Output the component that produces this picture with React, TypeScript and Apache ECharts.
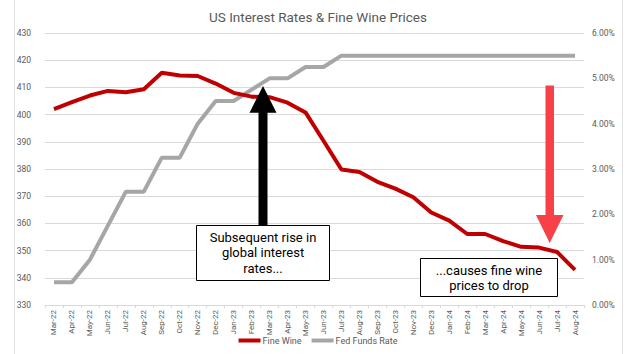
import React, { useEffect, useRef } from "react";
import * as echarts from "echarts";

const months = [
  "Mar-22", "Apr-22", "May-22", "Jun-22", "Jul-22", "Aug-22", "Sep-22", "Oct-22", "Nov-22", "Dec-22",
  "Jan-23", "Feb-23", "Mar-23", "Apr-23", "May-23", "Jun-23", "Jul-23", "Aug-23", "Sep-23", "Oct-23",
  "Nov-23", "Dec-23", "Jan-24", "Feb-24", "Mar-24", "Apr-24", "May-24", "Jun-24", "Jul-24", "Aug-24",
];

const fineWine = [
  402, 404.6, 407, 408.7, 408.2, 409.3, 415.4, 414.4, 414.2, 411.4,
  408, 406.6, 406.4, 404.4, 400.8, 390.4, 379.8, 378.9, 375.3, 372.8,
  369.6, 364, 361, 356.1, 356.1, 353.5, 351.4, 351.1, 349.5, 342.9,
];

const fedFunds = [
  0.5, 0.5, 1.0, 1.75, 2.5, 2.5, 3.25, 3.25, 4.0, 4.5,
  4.5, 4.75, 5.0, 5.0, 5.25, 5.25, 5.5, 5.5, 5.5, 5.5,
  5.5, 5.5, 5.5, 5.5, 5.5, 5.5, 5.5, 5.5, 5.5, 5.5,
];

const seriesNames = ["Fine Wine", "Fed Funds Rate"];
const titleText = "US Interest Rates & Fine Wine Prices";
const note1 = ["Subsequent rise in", "global interest", "rates..."];
const note2 = ["...causes fine wine", "prices to drop"];

const FONT = "Roboto, 'Open Sans', sans-serif";

export default function App() {
  const ref = useRef<HTMLDivElement>(null);
  useEffect(() => {
    if (!ref.current) return;
    const chart = echarts.init(ref.current, null, { renderer: "svg" });
    chart.setOption({
      animation: false,
      backgroundColor: "#ffffff",
      textStyle: { fontFamily: FONT },
      title: {
        text: titleText,
        left: "center",
        top: 5,
        textStyle: { fontSize: 13.5, fontWeight: "normal", color: "#595959", fontFamily: FONT },
      },
      legend: {
        bottom: 4,
        left: "center",
        itemWidth: 22,
        itemHeight: 4,
        itemGap: 10,
        icon: "rect",
        textStyle: { fontSize: 9, color: "#595959", fontFamily: FONT, padding: [0, 0, 0, -3] },
        data: seriesNames,
      },
      grid: { left: 45, right: 52, top: 33, bottom: 49 },
      xAxis: {
        type: "category",
        data: months,
        boundaryGap: true,
        axisLine: { lineStyle: { color: "#D9D9D9" } },
        axisTick: { show: true, lineStyle: { color: "#D9D9D9" }, length: 3 },
        axisLabel: { rotate: 90, fontSize: 8, color: "#595959", margin: 5, interval: 0, fontFamily: FONT },
      },
      yAxis: [
        {
          type: "value",
          min: 330,
          max: 430,
          interval: 10,
          axisLine: { show: false },
          axisTick: { show: false },
          splitLine: { lineStyle: { color: "#D9D9D9" } },
          axisLabel: { fontSize: 8.5, color: "#595959", margin: 14, fontFamily: FONT },
        },
        {
          type: "value",
          min: 0,
          max: 6,
          interval: 1,
          axisLine: { show: false },
          axisTick: { show: false },
          splitLine: { show: false },
          axisLabel: {
            fontSize: 8.5,
            color: "#595959",
            margin: 8,
            fontFamily: FONT,
            formatter: (v: number) => v.toFixed(2) + "%",
          },
        },
      ],
      series: [
        {
          name: seriesNames[0],
          type: "line",
          data: fineWine,
          yAxisIndex: 0,
          symbol: "none",
          z: 3,
          lineStyle: { color: "#C00000", width: 4 },
          itemStyle: { color: "#C00000" },
        },
        {
          name: seriesNames[1],
          type: "line",
          data: fedFunds,
          yAxisIndex: 1,
          symbol: "none",
          z: 2,
          lineStyle: { color: "#A6A6A6", width: 4 },
          itemStyle: { color: "#A6A6A6" },
        },
      ],
      graphic: [
        { type: "line", shape: { x1: 14.5, y1: 0, x2: 14.5, y2: 354 }, style: { stroke: "#E3E3E3", lineWidth: 1 } },
        { type: "line", shape: { x1: 622.5, y1: 0, x2: 622.5, y2: 354 }, style: { stroke: "#E3E3E3", lineWidth: 1 } },
        {
          type: "polygon",
          z: 100,
          shape: {
            points: [
              [263, 86], [276.5, 112.7], [267.5, 112.7], [267.5, 225], [258.5, 225], [258.5, 112.7], [249.5, 112.7],
            ],
          },
          style: { fill: "#000000" },
        },
        {
          type: "rect",
          z: 100,
          shape: { x: 196.5, y: 225.5, width: 133, height: 55 },
          style: { fill: "#ffffff", stroke: "#000000", lineWidth: 1 },
        },
        {
          type: "text",
          z: 101,
          x: 263,
          y: 252.5,
          style: {
            text: note1.join("\n"),
            fontSize: 13,
            lineHeight: 15.5,
            fontFamily: FONT,
            fill: "#000000",
            align: "center",
            verticalAlign: "middle",
          },
        },
        {
          type: "polygon",
          z: 100,
          shape: {
            points: [
              [545.5, 85.5], [554, 85.5], [554, 215], [563.5, 215], [549.7, 243], [536, 215], [545.5, 215],
            ],
          },
          style: { fill: "#F84048" },
        },
        {
          type: "rect",
          z: 100,
          shape: { x: 420.5, y: 258.5, width: 137, height: 38 },
          style: { fill: "#ffffff", stroke: "#000000", lineWidth: 1 },
        },
        {
          type: "text",
          z: 101,
          x: 489,
          y: 278,
          style: {
            text: note2.join("\n"),
            fontSize: 13,
            lineHeight: 15,
            fontFamily: FONT,
            fill: "#000000",
            align: "center",
            verticalAlign: "middle",
          },
        },
      ],
    });
    return () => chart.dispose();
  }, []);
  return <div ref={ref} style={{ width: 636, height: 354, position: "absolute", left: 0, top: 0 }} />;
}
